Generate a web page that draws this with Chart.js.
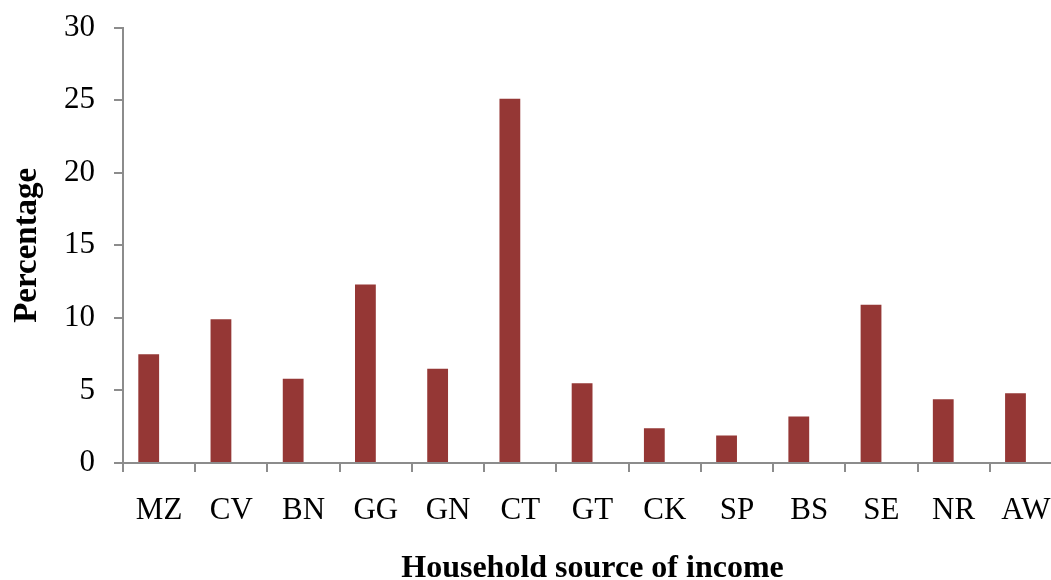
<!DOCTYPE html>
<html>
<head>
<meta charset="utf-8">
<script src="https://cdn.jsdelivr.net/npm/chart.js@4.4.1/dist/chart.umd.min.js"></script>
<style>
  html, body { margin: 0; padding: 0; background: #ffffff; overflow: hidden; }
  #wrap { position: relative; top: -10px; width: 1072px; height: 595px; }
</style>
</head>
<body>
<div id="wrap"><canvas id="chart"></canvas></div>
<script>
// Share of households by main source of income (%)
const categories = ['MZ', 'CV', 'BN', 'GG', 'GN', 'CT', 'GT', 'CK', 'SP', 'BS', 'SE', 'NR', 'AW'];
const percentages = [7.5, 9.9, 5.8, 12.3, 6.5, 25.1, 5.5, 2.4, 1.9, 3.2, 10.9, 4.4, 4.8];
const emptySeries = [null, null, null, null, null, null, null, null, null, null, null, null, null];
const yTicks = [0, 5, 10, 15, 20, 25, 30];

const serif = '"Liberation Serif", "Times New Roman", serif';
const axisGray = '#8c8c8c';

new Chart(document.getElementById('chart'), {
  type: 'bar',
  data: {
    labels: categories,
    datasets: [
      {
        label: 'Percentage',
        data: percentages,
        backgroundColor: '#953735',
        borderWidth: 0,
        barPercentage: 1.0,
        categoryPercentage: 0.576
      },
      {
        label: '',
        data: emptySeries,
        backgroundColor: '#953735',
        barPercentage: 1.0,
        categoryPercentage: 0.576
      }
    ]
  },
  options: {
    responsive: true,
    maintainAspectRatio: false,
    animation: false,
    layout: { padding: { left: 0, right: 10, top: 0, bottom: 0 } },
    plugins: {
      legend: { display: false },
      tooltip: { enabled: false }
    },
    scales: {
      x: {
        grid: {
          display: true,
          drawOnChartArea: false,
          drawTicks: true,
          tickLength: 9,
          color: axisGray,
          lineWidth: 2
        },
        border: { display: true, color: axisGray, width: 2 },
        ticks: {
          color: '#000000',
          font: { family: serif, size: 31 },
          padding: 20,
          maxRotation: 0
        },
        title: {
          display: true,
          text: 'Household source of income',
          color: '#000000',
          font: { family: serif, size: 32, weight: 'bold', lineHeight: 1 },
          padding: { top: 0, bottom: 0 }
        },
        afterFit: (scale) => { scale.height = 122; }
      },
      y: {
        min: 0,
        max: 30,
        afterBuildTicks: (scale) => { scale.ticks = yTicks.map(v => ({ value: v })); },
        grid: {
          display: true,
          drawOnChartArea: false,
          drawTicks: true,
          tickLength: 9,
          color: axisGray,
          lineWidth: 2
        },
        border: { display: true, color: axisGray, width: 2 },
        ticks: {
          color: '#000000',
          font: { family: serif, size: 31 },
          padding: 19
        },
        title: {
          display: true,
          text: 'Percentage',
          color: '#000000',
          font: { family: serif, size: 33, weight: 'bold', lineHeight: 1 },
          padding: { top: 11, bottom: 0 }
        },
        afterFit: (scale) => { scale.width = 123; }
      }
    }
  }
});
</script>
</body>
</html>
